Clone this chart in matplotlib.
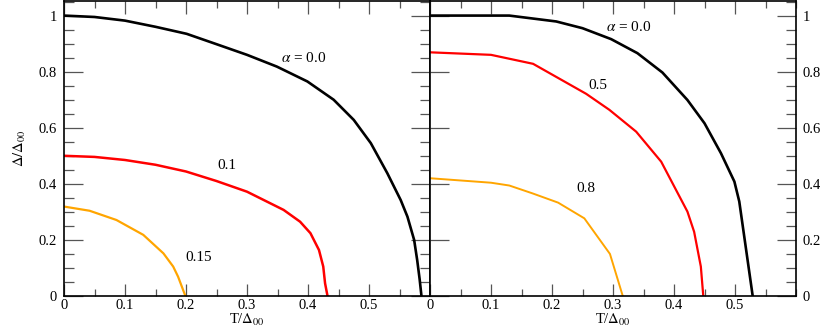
import matplotlib
matplotlib.use("Agg")
import matplotlib.pyplot as plt
from matplotlib.ticker import MultipleLocator, FixedLocator

plt.rcParams["font.family"] = ["Liberation Serif", "DejaVu Serif"]
plt.rcParams["mathtext.fontset"] = "stix"

# left panel: Delta/Delta00 vs T/Delta00 for alpha = 0.0, 0.1, 0.15
t_a00_l = [0.0, 0.05, 0.1, 0.15, 0.201, 0.25, 0.3, 0.349, 0.399, 0.442, 0.475, 0.503,
           0.53, 0.552, 0.563, 0.574, 0.579, 0.583, 0.586]
d_a00_l = [1.0, 0.995, 0.982, 0.96, 0.935, 0.898, 0.86, 0.818, 0.765, 0.70, 0.628, 0.545,
           0.438, 0.342, 0.283, 0.2, 0.128, 0.06, 0.0]

t_a01 = [0.0, 0.05, 0.1, 0.15, 0.2, 0.25, 0.3, 0.36, 0.387, 0.404, 0.418, 0.425, 0.428, 0.432]
d_a01 = [0.5, 0.496, 0.485, 0.468, 0.444, 0.41, 0.372, 0.307, 0.265, 0.224, 0.164, 0.105, 0.045, 0.0]

t_a015 = [0.0, 0.042, 0.086, 0.13, 0.163, 0.179, 0.187, 0.199]
d_a015 = [0.319, 0.304, 0.271, 0.218, 0.152, 0.105, 0.069, 0.0]

# right panel: alpha = 0.0, 0.5, 0.8
t_a00_r = [0.0, 0.13, 0.207, 0.25, 0.297, 0.34, 0.381, 0.422, 0.45, 0.477, 0.499, 0.507, 0.529]
d_a00_r = [1.0, 1.0, 0.979, 0.955, 0.916, 0.866, 0.797, 0.699, 0.616, 0.509, 0.408, 0.337, 0.0]

t_a05 = [0.0, 0.1, 0.169, 0.256, 0.294, 0.338, 0.379, 0.422, 0.433, 0.444, 0.448]
d_a05 = [0.869, 0.860, 0.828, 0.721, 0.664, 0.586, 0.479, 0.301, 0.229, 0.105, 0.0]

t_a08 = [0.0, 0.1, 0.13, 0.168, 0.21, 0.253, 0.295, 0.316]
d_a08 = [0.42, 0.404, 0.394, 0.366, 0.333, 0.277, 0.15, 0.0]

xticks = [0, 0.1, 0.2, 0.3, 0.4, 0.5]
xticklabels = ["0", "0.1", "0.2", "0.3", "0.4", "0.5"]
yticks = [0, 0.2, 0.4, 0.6, 0.8, 1.0]
yticklabels = ["0", "0.2", "0.4", "0.6", "0.8", "1"]

fig = plt.figure(figsize=(8.3, 3.27), dpi=100)
ax1 = fig.add_axes([64 / 830, 31 / 327, 366 / 830, 295 / 327])
ax2 = fig.add_axes([430 / 830, 31 / 327, 366 / 830, 295 / 327])

ax1.plot(t_a00_l, d_a00_l, color="black", lw=1.9)
ax1.plot(t_a01, d_a01, color="red", lw=1.8)
ax1.plot(t_a015, d_a015, color="orange", lw=1.6)
ax1.text(0.393, 0.85, r"$\alpha$ = 0.0", ha="center", va="center", fontsize=11)
ax1.text(0.267, 0.465, "0.1", ha="center", va="center", fontsize=11)
ax1.text(0.22, 0.139, "0.15", ha="center", va="center", fontsize=11)

ax2.plot(t_a00_r, d_a00_r, color="black", lw=1.9)
ax2.plot(t_a05, d_a05, color="red", lw=1.6)
ax2.plot(t_a08, d_a08, color="orange", lw=1.4)
ax2.text(0.326, 0.961, r"$\alpha$ = 0.0", ha="center", va="center", fontsize=11)
ax2.text(0.276, 0.749, "0.5", ha="center", va="center", fontsize=11)
ax2.text(0.256, 0.383, "0.8", ha="center", va="center", fontsize=11)

for ax in (ax1, ax2):
    ax.set_xlim(0, 0.6)
    ax.set_ylim(0, 1.052)
    ax.xaxis.set_major_locator(FixedLocator(xticks))
    ax.set_xticklabels(xticklabels)
    ax.xaxis.set_minor_locator(MultipleLocator(0.05))
    ax.yaxis.set_major_locator(FixedLocator(yticks))
    ax.yaxis.set_minor_locator(MultipleLocator(0.05))
    ax.tick_params(axis="x", which="major", direction="in", top=True, bottom=True,
                   length=9, width=0.9, color="#555555", labelsize=10.5, pad=2)
    ax.tick_params(axis="x", which="minor", direction="in", top=True, bottom=True,
                   length=5, width=0.9, color="#555555")
    ax.tick_params(axis="y", which="major", direction="in", left=True, right=True,
                   length=14, width=0.9, color="#555555", labelsize=10.5, pad=5)
    ax.tick_params(axis="y", which="minor", direction="in", left=True, right=True,
                   length=7, width=0.9, color="#555555")
    for s in ax.spines.values():
        s.set_linewidth(1.2)
    ax.set_xlabel(r"T/$\Delta_{00}$", fontsize=10.5, labelpad=0)

ax1.set_yticklabels(yticklabels)
ax1.set_ylabel(r"$\Delta/\Delta_{00}$", fontsize=10.5, labelpad=8)

ax2.set_yticklabels(yticklabels)
ax2.tick_params(axis="y", which="both", labelleft=False, labelright=True)
ax2.tick_params(axis="y", which="minor", left=False)

fig.savefig("out.png", dpi=100)
